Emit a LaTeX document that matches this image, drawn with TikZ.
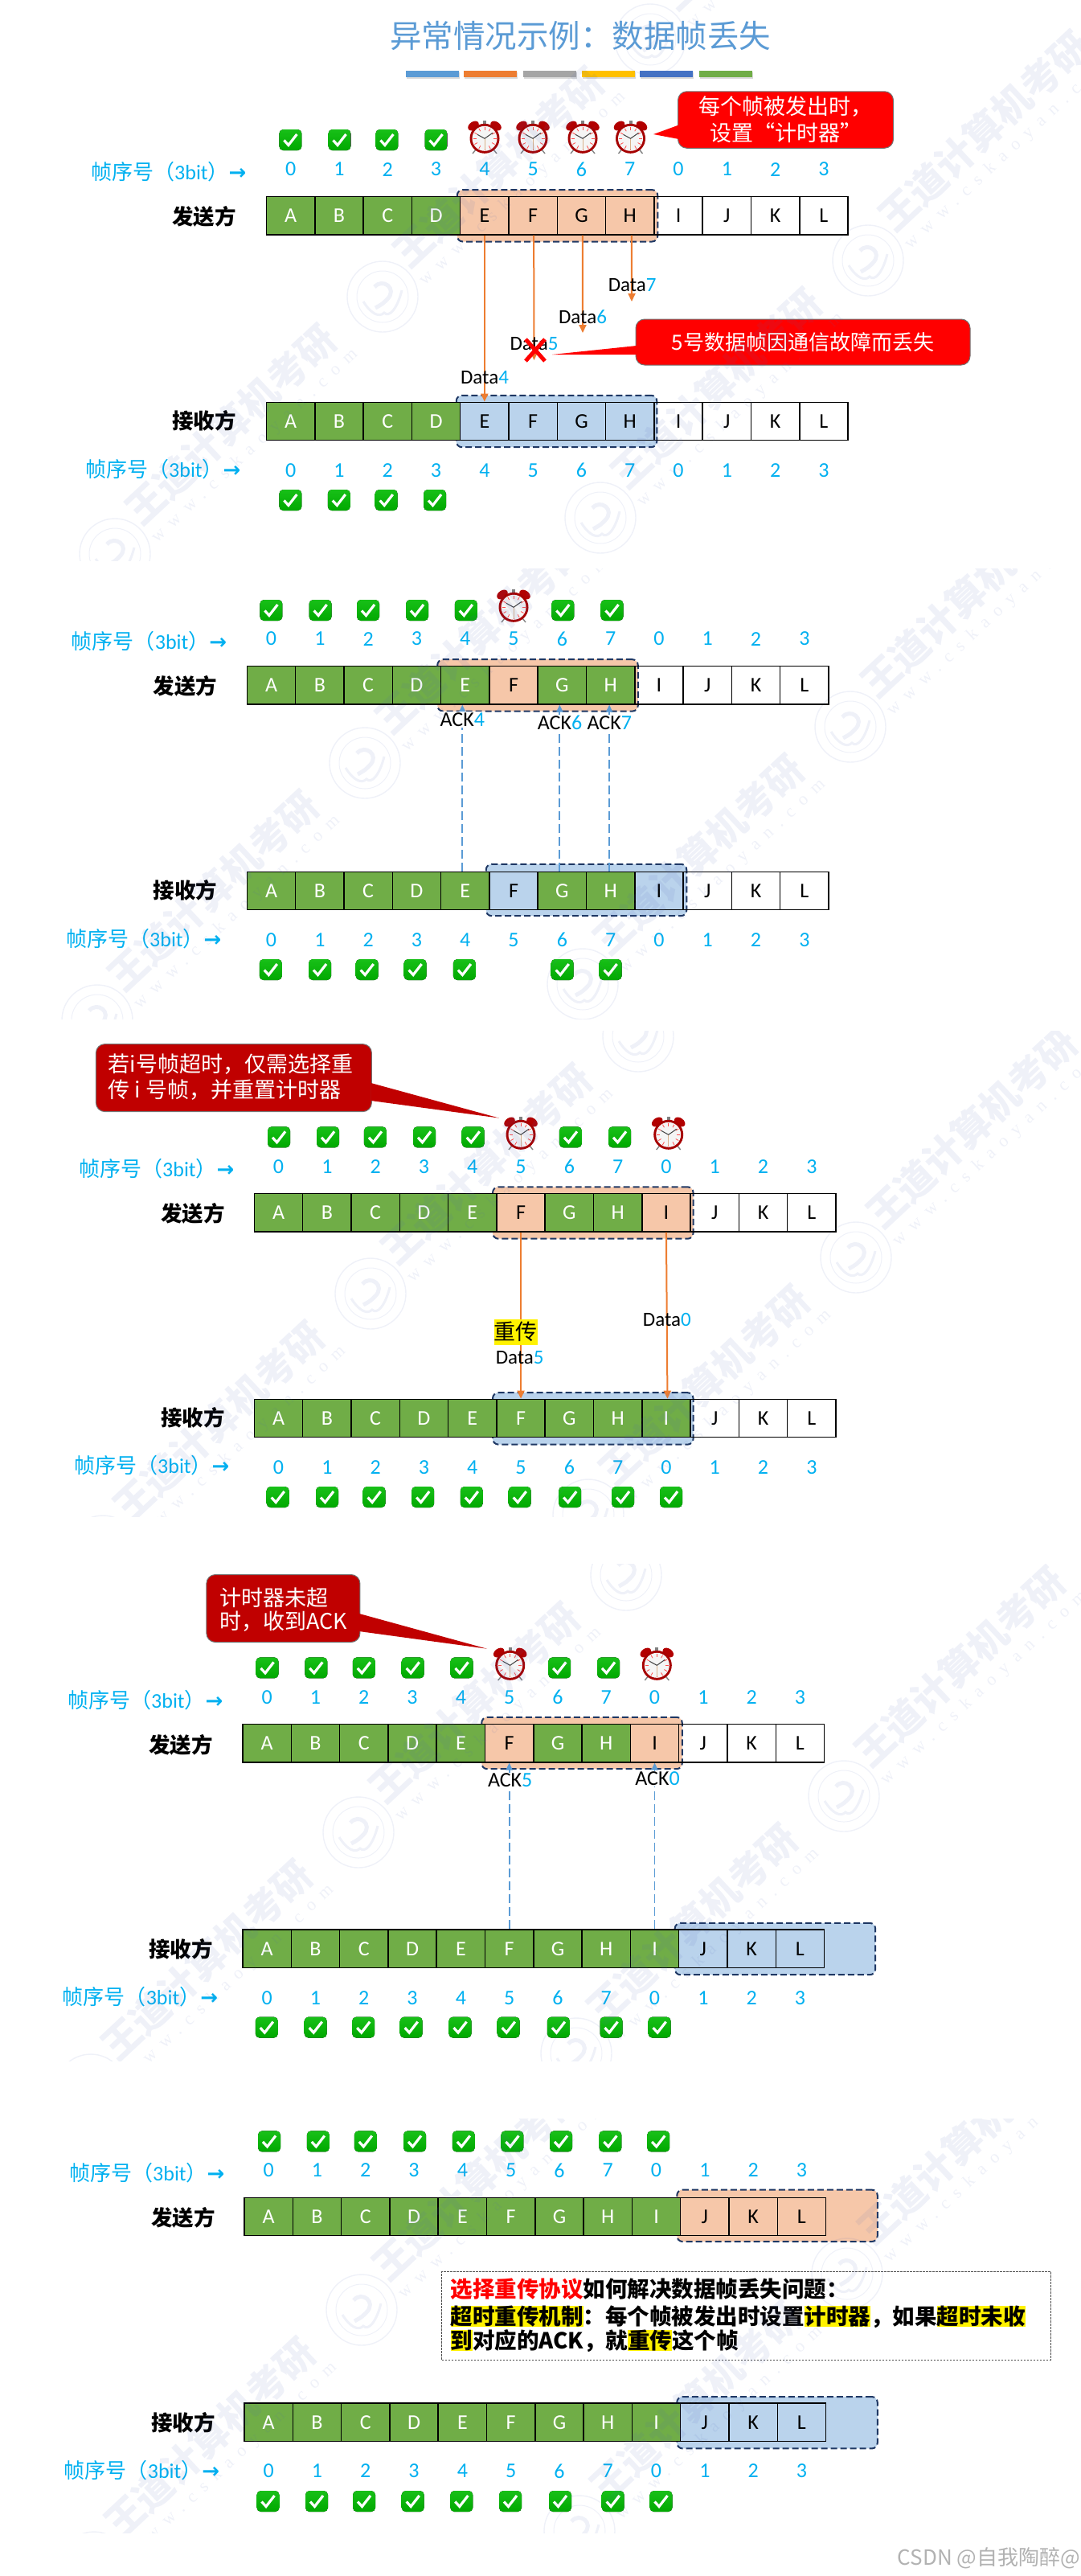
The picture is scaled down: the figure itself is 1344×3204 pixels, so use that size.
\documentclass[tikz,border=0pt]{standalone}
\usepackage{fontspec}
\usetikzlibrary{arrows.meta,shadows}
\setmainfont{Carlito}
\newfontfamily\cjk{Noto Sans CJK SC}
\newfontfamily\arrowfont{DejaVu Sans}
\newfontfamily\wwwfont[LetterSpace=50]{Liberation Serif}
\definecolor{cellgreen}{HTML}{70AD47}
\definecolor{winorange}{HTML}{F6C7A9}
\definecolor{winblue}{HTML}{BAD3EC}
\definecolor{seqblue}{HTML}{00B0F0}
\definecolor{winnavy}{HTML}{1F3864}
\definecolor{dataorange}{HTML}{ED7D31}
\definecolor{ackblue}{HTML}{5B9BD5}
\definecolor{darkred}{HTML}{C00000}
\definecolor{markpale}{HTML}{5068B8}
\definecolor{ticktop}{HTML}{18C018}
\definecolor{tickbot}{HTML}{00A800}
\newcommand\fwcomma{\char"FF0C\relax}
\newcommand\fwcolon{\char"FF1A\relax}
\newcommand\fwopen{\char"FF08\relax}
\newcommand\fwclose{\char"FF09\relax}
\tikzset{
  px/.style={font=\fontsize{#1}{#1}\selectfont},
  cell/.style={draw=black,line width=1.5,minimum width=60.3,minimum height=47.2,inner sep=0,px=26},
  cg/.style={cell,fill=cellgreen,text=white},
  co/.style={cell,fill=winorange},
  cb/.style={cell,fill=winblue},
  cw/.style={cell},
  seqno/.style={text=seqblue,inner sep=0,px=26},
  seqlab/.style={text=seqblue,anchor=west,inner sep=0,px=26},
  party/.style={inner sep=0,px=26.5,font=\cjk\bfseries\fontsize{26.5}{26.5}\selectfont},
  winbox/.style={draw=winnavy,line width=2,dash pattern=on 8pt off 4pt,rounded corners=7,minimum width=249.5,minimum height=64.4},
  datalab/.style={inner sep=0,px=25},
  acklab/.style={inner sep=1,fill=white,px=26},
  dataline/.style={dataorange,line width=2,-{Triangle[length=10pt,width=9pt]}},
  ackline/.style={ackblue,line width=1.8,dash pattern=on 11pt off 5pt,-{Triangle[length=9pt,width=8pt]}},
  redbox/.style={fill=red,draw=black!55,line width=1,rounded corners=11,text=white,align=center,inner sep=0,font=\cjk\fontsize{27}{33}\selectfont},
  darkbox/.style={fill=darkred,draw=black!55,line width=1,rounded corners=11,text=white,inner sep=0,font=\cjk\fontsize{27}{33}\selectfont},
  infoline/.style={anchor=west,inner sep=0,font=\cjk\bfseries\fontsize{27.5}{27.5}\selectfont},
  tickmark/.pic={
    \fill[top color=ticktop,bottom color=tickbot,rounded corners=5] (-14,-13) rectangle (14,13);
    \draw[white,line width=3.2] (-8,0.5) -- (-2.5,6.5) -- (8,-7);
  },
  alarm/.pic={
    \draw[gray,line width=1.4] (-11,16) -- (-15,21) (11,16) -- (15,21);
    \fill[gray] (-2,-20) rectangle (2,-16);
    \fill[red!70!black,rotate around={35:(-14,-13.5)}] (-14,-13.5) ellipse [x radius=7.5,y radius=5];
    \fill[red!70!black,rotate around={-35:(14,-13.5)}] (14,-13.5) ellipse [x radius=7.5,y radius=5];
    \fill[red!65!black] (0,2.3) circle [radius=18.5];
    \fill[black!4] (0,2.3) circle [radius=15.5];
    \begin{scope}[shift={(0,2.3)}]
    \foreach \t in {0,30,...,330} \draw[red!70,line width=.8] (\t:10.5) -- (\t:14.5);
    \draw[brown!60,line width=.6] (0,0) -- (0,14);
    \draw[black!75,line width=1] (-9,-5) -- (0,0) -- (10,-7);
    \end{scope}
  },
  sealmark/.pic={
    \draw[markpale,line width=1.4] (0,0) circle [radius=44];
    \draw[markpale,line width=1] (0,0) circle [radius=32];
    \draw[markpale,line width=5] (-10,-12) .. controls (0,-24) and (19,-10) .. (6,3) .. controls (0,9) .. (-9,14);
    \draw[markpale,line width=3] (-24,6) .. controls (-14,22) and (-4,26) .. (2,20) .. controls (8,26) and (18,16) .. (24,-8);
  }
}
\newcommand\framerow[4]{\foreach \ch/\st [count=\i from 0] in {#4} \node[\st] (#1\i) at ({#2+(\i+.5)*60.3},#3) {\ch};}
\newcommand\seqrow[3]{\foreach \n [count=\i from 0] in {0,1,2,3,4,5,6,7,0,1,2,3} \node[seqno] (#1\i) at ({#2+(\i+.5)*60.3},#3) {\n};}
\newcommand\seqtext{{\cjk 帧序号\fwopen}3bit{\cjk \fwclose}{\arrowfont\bfseries →}}
\newcommand\tickrow[3]{\foreach \x [count=\i] in {#3} \pic (#1\i) at (\x,#2) {tickmark};}
\newcommand\hl[1]{{\fboxsep=0pt\colorbox{yellow}{#1}}}
\newcommand\wmpanel[5]{
\begin{scope}[opacity=.095]
\clip (0,#4) rectangle (1344,#5);
\foreach \i/\j in {0/0,1/0,2/0,0/1,1/1} {
  \node[text=markpale,rotate=43,font=\cjk\bfseries\fontsize{48}{48}\selectfont] (#1big\i\j) at ({#2+\i*333+\j*604},{#3-\i*320-\j*45}) {王道计算机考研};
  \node[text=markpale,rotate=43,font=\wwwfont\fontsize{22}{22}\selectfont] (#1www\i\j) at ({#2+\i*333+\j*604+30},{#3-\i*320-\j*45+27}) {www.cskaoyan.com};
  \pic (#1seal\i\j) at ({#2+\i*333+\j*604-144},{#3-\i*320-\j*45+161}) {sealmark};
}
\end{scope}}
\begin{document}
\begin{tikzpicture}[x=1pt,y=-1pt]
\useasboundingbox (0,0) rectangle (1344,3204);
\node[text=ackblue,inner sep=0,font=\cjk\fontsize{39.5}{40}\selectfont] (title) at (722,45) {异常情况示例\fwcolon 数据帧丢失};
\foreach \x/\c [count=\i] in {538/5B9BD5,610/ED7D31,684/A5A5A5,757/FFC000,829/4472C4,903/70AD47} {
  \definecolor{barcol}{HTML}{\c}
  \node[fill=barcol,minimum width=66,minimum height=8,inner sep=0,drop shadow={shadow xshift=1pt,shadow yshift=-2pt,opacity=.3}] (bar\i) at (\x,92) {};
}

\node[winbox,fill=winorange] (w1s) at (693.5,268.3) {};
\framerow{a}{331.5}{268.2}{A/cg,B/cg,C/cg,D/cg,E/co,F/co,G/co,H/co,I/cw,J/cw,K/cw,L/cw}
\node[winbox,fill=winblue] (w1r) at (692.5,524) {};
\framerow{b}{331.5}{524}{A/cg,B/cg,C/cg,D/cg,E/cb,F/cb,G/cb,H/cb,I/cw,J/cw,K/cw,L/cw}
\seqrow{an}{331.5}{210.6}
\seqrow{bn}{331.5}{585}
\node[seqlab] (alab) at (113,214) {\seqtext};
\node[seqlab] (blab) at (106,584) {\seqtext};
\node[party] (asend) at (254,269.5) {发送方};
\node[party] (arecv) at (254,523.6) {接收方};
\tickrow{ak}{174}{361.4,422.5,481.4,542.5}
\tickrow{bk}{622}{361.4,421.8,480.7,541}
\foreach \x [count=\i] in {603,663,725,784.5} \pic (ac\i) at (\x,170) {alarm};
\coordinate (d5end) at (664.5,448);
\coordinate (d6end) at (725,414);
\coordinate (d7end) at (786,375);
\draw[dataline] (a4.south) -- (b4.north);
\draw[dataline] ([xshift=1pt]a5.south) -- (d5end);
\draw[dataline] ([xshift=1.5pt]a6.south) -- (d6end);
\draw[dataline] ([xshift=2pt]a7.south) -- (d7end);
\node[datalab] (d7) at (786.7,355) {Data\textcolor{seqblue}{7}};
\node[datalab] (d6) at (725,394) {Data\textcolor{seqblue}{6}};
\node[datalab] (d5) at (664.5,428) {Data\textcolor{seqblue}{5}};
\node[datalab] (d4) at (603,470) {Data\textcolor{seqblue}{4}};
\draw[red,line width=5] (654,422) -- (678,449) (678,422) -- (654,449);
\node[redbox,minimum width=268,minimum height=70.5] (c1) at (977.5,149) {每个帧被发出时\fwcomma\\设置“计时器”};
\coordinate (c1tip) at (813,167);
\fill[red] (844.5,155.5) -- (c1tip) -- (844.5,173) -- cycle;
\node[redbox,font=\cjk\fontsize{26}{30}\selectfont,minimum width=416,minimum height=57] (c2) at (999,425.5) {5号数据帧因通信故障而丢失};
\coordinate (c2tip) at (687,441);
\fill[red] (792,430) -- (c2tip) -- (792,441) -- cycle;

\node[winbox,fill=winorange] (w2s) at (669,852.4) {};
\framerow{c}{307.4}{852.2}{A/cg,B/cg,C/cg,D/cg,E/cg,F/co,G/cg,H/cg,I/cw,J/cw,K/cw,L/cw}
\node[winbox,fill=winblue] (w2r) at (729.5,1107) {};
\framerow{e}{307.4}{1108}{A/cg,B/cg,C/cg,D/cg,E/cg,F/cb,G/cg,H/cg,I/cb,J/cw,K/cw,L/cw}
\seqrow{cn}{307.4}{794.6}
\seqrow{en}{307.4}{1169}
\node[seqlab] (clab) at (88.7,798) {\seqtext};
\node[seqlab] (elab) at (82,1168) {\seqtext};
\node[party] (csend) at (230.6,853.6) {发送方};
\node[party] (crecv) at (230.6,1107) {接收方};
\tickrow{ck}{759}{337.4,398.6,458,519,579.8,700.3,761.5}
\tickrow{ek}{1206}{336.8,398,456.7,516.6,577.9,699.7,759.6}
\pic (cc1) at (639,753) {alarm};
\draw[ackline] ([xshift=-3.5pt]e4.north) -- ([xshift=-3.5pt]c4.south);
\draw[ackline] ([xshift=-3pt]e6.north) -- ([xshift=-3pt]c6.south);
\draw[ackline] ([xshift=-1.5pt]e7.north) -- ([xshift=-1.5pt]c7.south);
\node[acklab] (ack4) at (575.3,895) {ACK\textcolor{seqblue}{4}};
\node[acklab] (ack6) at (696.5,899) {ACK\textcolor{seqblue}{6}};
\node[acklab] (ack7) at (758.3,899) {ACK\textcolor{seqblue}{7}};

\node[winbox,fill=winorange] (w3s) at (737.8,1508.5) {};
\framerow{f}{316.4}{1508.2}{A/cg,B/cg,C/cg,D/cg,E/cg,F/co,G/cg,H/cg,I/co,J/cw,K/cw,L/cw}
\node[winbox,fill=winblue] (w3r) at (737.8,1764.4) {};
\framerow{g}{316.4}{1764}{A/cg,B/cg,C/cg,D/cg,E/cg,F/cg,G/cg,H/cg,I/cg,J/cw,K/cw,L/cw}
\seqrow{fn}{316.4}{1451}
\seqrow{gn}{316.4}{1824.8}
\node[seqlab] (flab) at (98,1454) {\seqtext};
\node[seqlab] (glab) at (92,1822.8) {\seqtext};
\node[party] (fsend) at (240,1509) {发送方};
\node[party] (frecv) at (240,1763.5) {接收方};
\tickrow{fk}{1414.3}{347,408,466.9,528,588.7,709.9,771}
\tickrow{gk}{1862}{345.7,407,465.6,526.2,586.8,646.7,709.2,775,835}
\pic (fc1) at (648,1409) {alarm};
\pic (fc2) at (831.7,1409) {alarm};
\draw[dataline] (f5.south) -- (g5.north);
\draw[dataline] (f8.south) -- ([xshift=1.5pt]g8.north);
\node[fill=yellow,inner sep=0,minimum width=54,minimum height=32,font=\cjk\fontsize{27}{27}\selectfont] (resend) at (641.6,1656.7) {重传};
\node[datalab] (f5lab) at (646.7,1689) {Data\textcolor{seqblue}{5}};
\node[datalab] (f0lab) at (829.8,1641) {Data\textcolor{seqblue}{0}};
\node[darkbox,minimum width=343,minimum height=84] (c3) at (290.9,1340.6) {};
\coordinate (c3tip) at (621,1390.6);
\fill[darkred] (461.5,1347) -- (c3tip) -- (461.5,1369) -- cycle;
\node[anchor=west,inner sep=0,text=white,font=\cjk\fontsize{27}{27}\selectfont] (c3a) at (134.6,1323.4) {若i号帧超时\fwcomma 仅需选择重};
\node[anchor=west,inner sep=0,text=white,font=\cjk\fontsize{27}{27}\selectfont] (c3b) at (134.6,1356) {传 i 号帧\fwcomma 并重置计时器};

\node[winbox,fill=winorange] (w4s) at (724,2168) {};
\framerow{h}{302}{2168.2}{A/cg,B/cg,C/cg,D/cg,E/cg,F/co,G/cg,H/cg,I/co,J/cw,K/cw,L/cw}
\node[winbox,fill=winblue] (w4r) at (964.4,2424) {};
\framerow{k}{302}{2423.8}{A/cg,B/cg,C/cg,D/cg,E/cg,F/cg,G/cg,H/cg,I/cg,J/cb,K/cb,L/cb}
\seqrow{hn}{302}{2110.8}
\seqrow{kn}{302}{2484.9}
\node[seqlab] (hlab) at (84,2114.4) {\seqtext};
\node[seqlab] (klab) at (77.6,2483.7) {\seqtext};
\node[party] (hsend) at (225,2170) {发送方};
\node[party] (hrecv) at (225,2424) {接收方};
\tickrow{hk}{2074.4}{332.5,393.3,452.8,513.7,574.5,696.2,757}
\tickrow{kk}{2521.6}{331.8,392.7,452.2,511.7,572.5,632.7,694.9,760.5,820.6}
\pic (hc1) at (634.7,2069) {alarm};
\pic (hc2) at (817.3,2069) {alarm};
\draw[ackline] (k5.north) -- (h5.south);
\draw[ackline] (k8.north) -- (h8.south);
\node[acklab] (ack5) at (634.7,2214) {ACK\textcolor{seqblue}{5}};
\node[acklab] (ack0) at (818,2212) {ACK\textcolor{seqblue}{0}};
\node[darkbox,minimum width=191,minimum height=84] (c4) at (352.4,2000.5) {};
\coordinate (c4tip) at (606,2050.7);
\fill[darkred] (447,2007) -- (c4tip) -- (447,2029) -- cycle;
\node[anchor=west,inner sep=0,text=white,font=\cjk\fontsize{27}{27}\selectfont] (c4a) at (273,1987.5) {计时器未超};
\node[anchor=west,inner sep=0,text=white,font=\cjk\fontsize{27}{27}\selectfont] (c4b) at (273,2017) {时\fwcomma 收到ACK};

\node[winbox,fill=winorange] (w5s) at (967,2755.8) {};
\framerow{m}{304}{2757}{A/cg,B/cg,C/cg,D/cg,E/cg,F/cg,G/cg,H/cg,I/cg,J/co,K/co,L/co}
\node[winbox,fill=winblue] (w5r) at (967,3013.2) {};
\framerow{p}{304}{3012.8}{A/cg,B/cg,C/cg,D/cg,E/cg,F/cg,G/cg,H/cg,I/cg,J/cb,K/cb,L/cb}
\seqrow{mn}{304}{2699.4}
\seqrow{pn}{304}{3073.5}
\node[seqlab] (mlab) at (86,2703) {\seqtext};
\node[seqlab] (plab) at (79.7,3072.4) {\seqtext};
\node[party] (msend) at (228,2758.7) {发送方};
\node[party] (mrecv) at (228,3013) {接收方};
\tickrow{mk}{2663.4}{335,395.8,454.8,516,576.8,637.4,698,759.4,819.2}
\tickrow{pk}{3111}{333.5,394,453,513.7,574.3,635,697,762.7,822.5}
\node[draw=black!70,line width=1,dash pattern=on 2.5pt off 1.5pt,minimum width=757.5,minimum height=110,inner sep=0] (info) at (928.5,2880) {};
\node[infoline] (info1) at (560.4,2846.8) {\textcolor{red}{选择重传协议}如何解决数据帧丢失问题\fwcolon};
\node[infoline] (info2) at (560.4,2881.7) {\hl{超时重传机制}\fwcolon 每个帧被发出时设置\hl{计时器}\fwcomma 如果\hl{超时未收}};
\node[infoline] (info3) at (560.4,2911.6) {\hl{到}对应的ACK\fwcomma 就\hl{重传}这个帧};

\wmpanel{p1}{287}{528}{0}{697}
\wmpanel{p2}{265}{1108}{707}{1267}
\wmpanel{p3}{272}{1768}{1282}{1886}
\wmpanel{p4}{257}{2438}{1945}{2563}
\wmpanel{p5}{261}{3032}{2635}{3150}
\node[anchor=east,inner sep=0,text=black!30,font=\cjk\fontsize{26}{26}\selectfont] (csdn) at (1344,3182) {CSDN @自我陶醉@};
\end{tikzpicture}
\end{document}
